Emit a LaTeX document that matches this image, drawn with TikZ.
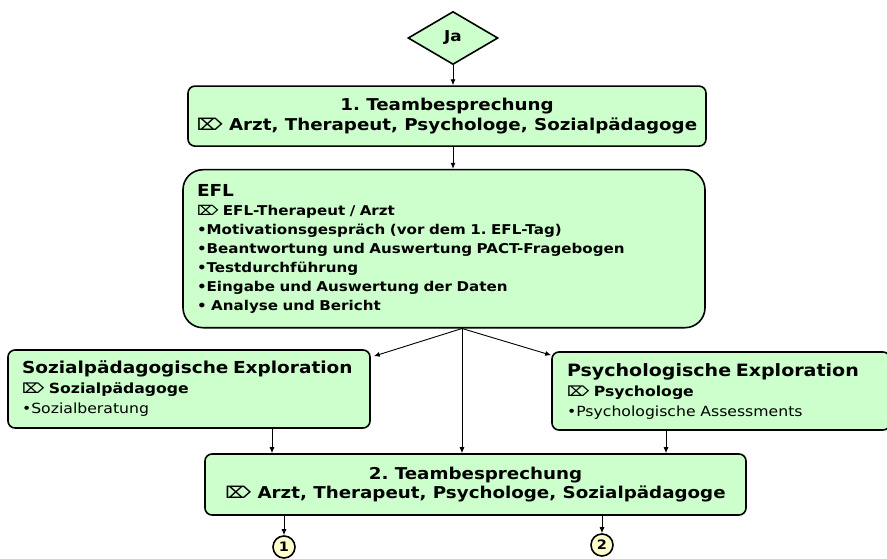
\documentclass[tikz,border=0pt]{standalone}
\usepackage{fontspec}
\setmainfont{DejaVu Sans}[FakeStretch=1.12]
\usetikzlibrary{positioning}
\usetikzlibrary{shapes.geometric,arrows.meta}
\definecolor{boxgreen}{HTML}{CCFFCC}
\definecolor{numyellow}{HTML}{FFFFCC}
\newcommand{\wer}{⌦\ }
\frenchspacing

\begin{document}
\begin{tikzpicture}[x=1pt, y=-1pt,
    box/.style = {draw, line width=1.6pt, fill=boxgreen, rounded corners=7pt},
    arr/.style = {-{Latex[length=6pt,width=5pt]}, line width=0.9pt},
    num/.style = {draw, circle, line width=1.6pt, fill=numyellow, minimum size=22pt, inner sep=0pt, font=\bfseries\fontsize{13}{13}\selectfont}]
  \useasboundingbox (0,0) rectangle (887,559);
  \node[draw, diamond, line width=1.6pt, fill=boxgreen, minimum width=90pt, minimum height=53pt, inner sep=0pt, font=\bfseries\fontsize{15}{15}\selectfont] (ja) at (453,38) {Ja};
  \node[box, below=20pt of ja, xshift=-6pt, minimum width=518pt, minimum height=60pt, align=center, font=\bfseries\fontsize{16.3}{19.5}\selectfont] (team1) {1. Teambesprechung\\ \wer Arzt, Therapeut, Psychologe, Sozialpädagoge};
  \node[box, rounded corners=20pt, below=22pt of team1, xshift=-3pt, text width=494pt, inner xsep=14pt, minimum height=158pt, align=left, font=\bfseries\fontsize{13.5}{19}\selectfont] (efl) {{\fontsize{16.5}{19}\selectfont EFL}\\ \wer EFL-Therapeut / Arzt\\ •Motivationsgespräch (vor dem 1. EFL-Tag)\\ •Beantwortung und Auswertung PACT-Fragebogen\\ •Testdurchführung\\ •Eingabe und Auswertung der Daten\\ • Analyse und Bericht};
  \node[box, text width=334pt, inner xsep=14pt, minimum height=78pt, align=left, font=\fontsize{14}{20}\selectfont] (sozial) at (189,389) {{\bfseries\fontsize{16.5}{20}\selectfont Sozialpädagogische Exploration}\\ {\bfseries \wer Sozialpädagoge}\\ •Sozialberatung};
  \node[box, text width=308pt, inner xsep=15pt, minimum height=78pt, align=left, font=\fontsize{14}{20}\selectfont] (psych) at (721,391) {{\bfseries\fontsize{17}{20}\selectfont Psychologische Exploration}\\ {\bfseries \wer Psychologe}\\ •Psychologische Assessments};
  \node[box, minimum width=541pt, minimum height=61pt, align=center, font=\bfseries\fontsize{16.3}{19.5}\selectfont] (team2) at (475.5,484.5) {2. Teambesprechung\\ \wer Arzt, Therapeut, Psychologe, Sozialpädagoge};
  \node[num] (c1) at (284,547) {1};
  \node[num] (c2) at (602,545) {2};
  \coordinate (fork) at ([xshift=18pt]efl.south);
  \coordinate (sozout) at ([xshift=83pt]sozial.south);
  \coordinate (psyout) at ([xshift=-55pt]psych.south);
  \draw[arr] (ja) -- (ja |- team1.north);
  \draw[arr] (ja |- team1.south) -- (ja |- efl.north);
  \draw[arr] (fork) -- ([xshift=3pt,yshift=-7pt]sozial.north east);
  \draw[arr] (fork) -- ([yshift=-4pt]psych.north west);
  \draw[arr] (fork) -- (fork |- team2.north);
  \draw[arr] (sozout) -- (sozout |- team2.north);
  \draw[arr] (psyout) -- (psyout |- team2.north);
  \draw[arr] (c1 |- team2.south) -- (c1);
  \draw[arr] (c2 |- team2.south) -- (c2);
\end{tikzpicture}
\end{document}
